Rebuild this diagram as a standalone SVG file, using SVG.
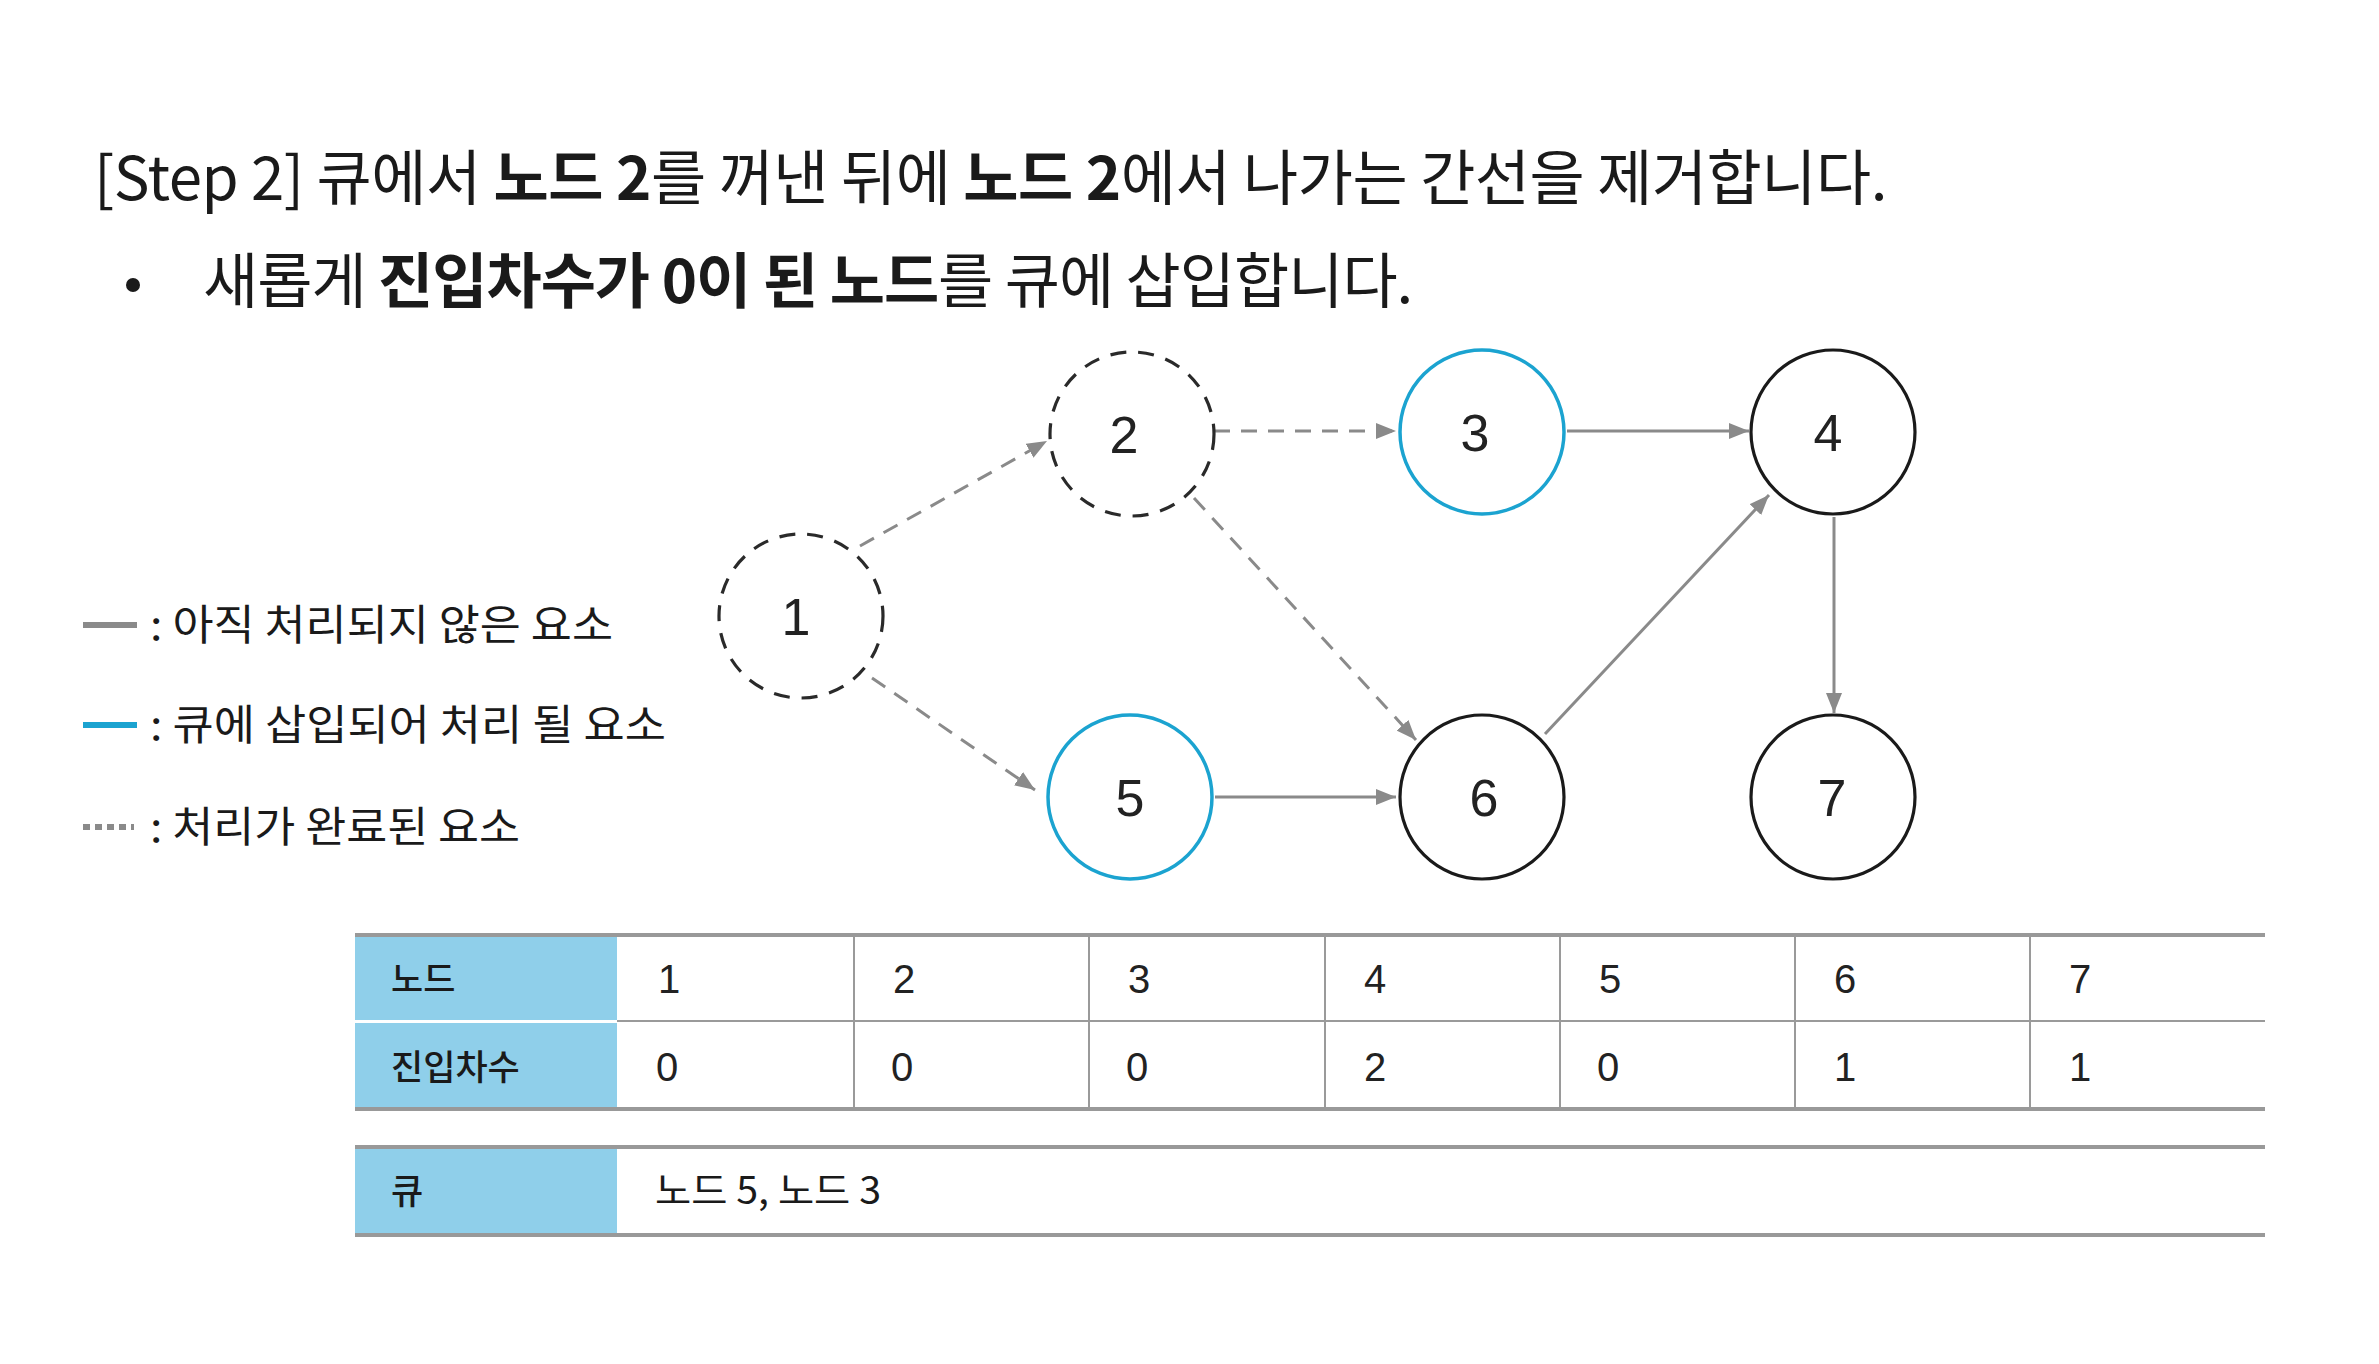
<svg xmlns="http://www.w3.org/2000/svg" width="2379" height="1364" viewBox="0 0 2379 1364">
<style>
.t{font-family:"Noto Sans CJK KR","Liberation Sans",sans-serif;fill:#1a1a1a}
.b{font-weight:700}
.lbl{font-family:"Liberation Sans",Arial,sans-serif;font-size:52px;fill:#222;text-anchor:middle}
.done{fill:none;stroke:#2a2a2a;stroke-width:3.2;stroke-dasharray:16 12}
.queued{fill:#fff;stroke:#1ba3d0;stroke-width:3.5}
.todo{fill:#fff;stroke:#1a1a1a;stroke-width:3.2}
.e{stroke:#8a8a8a;stroke-width:3;fill:none}
.ed{stroke-dasharray:16 11}
.grid{stroke:#9a9a9a;stroke-width:2}
.rule{stroke:#999;stroke-width:4}
.hd{fill:#8fcfea}
.cell{font-family:"Liberation Sans",Arial,sans-serif;font-size:40px;fill:#222}
.th{font-family:"Noto Sans CJK KR",sans-serif;font-size:35px;font-weight:500;fill:#1a1a1a}
</style>
<defs>
<marker id="ah" viewBox="0 0 20 16" refX="20" refY="8" markerWidth="20" markerHeight="16" markerUnits="userSpaceOnUse" orient="auto">
<path d="M0,0 L20,8 L0,16 z" fill="#8a8a8a"/>
</marker>
</defs>
<rect width="2379" height="1364" fill="#fff"/>

<g id="title">
<text class="t" x="94" y="200" font-size="60" letter-spacing="-0.5">[Step 2] 큐에서 <tspan class="b">노드 2</tspan>를 꺼낸 뒤에 <tspan class="b">노드 2</tspan>에서 나가는 간선을 제거합니다.</text>
<circle cx="133" cy="285" r="7" fill="#1a1a1a"/>
<text class="t" x="203" y="303" font-size="60" letter-spacing="-1">새롭게 <tspan class="b">진입차수가 0이 된 노드</tspan>를 큐에 삽입합니다.</text>
</g>

<g id="legend">
<line x1="83" y1="625" x2="137" y2="625" stroke="#8a8a8a" stroke-width="6"/>
<text class="t" x="150" y="640" font-size="42" textLength="463" lengthAdjust="spacingAndGlyphs">: 아직 처리되지 않은 요소</text>
<line x1="83" y1="725" x2="137" y2="725" stroke="#1ba3d0" stroke-width="6"/>
<text class="t" x="150" y="740" font-size="42" textLength="516" lengthAdjust="spacingAndGlyphs">: 큐에 삽입되어 처리 될 요소</text>
<line x1="83" y1="827" x2="134" y2="827" stroke="#8a8a8a" stroke-width="6" stroke-dasharray="7 5"/>
<text class="t" x="150" y="842" font-size="42" textLength="370" lengthAdjust="spacingAndGlyphs">: 처리가 완료된 요소</text>
</g>

<g id="connectors">
<line class="e ed" x1="860" y1="546" x2="1047" y2="441" marker-end="url(#ah)"/>
<line class="e ed" x1="872" y1="678" x2="1035" y2="790" marker-end="url(#ah)"/>
<line class="e ed" x1="1214" y1="431" x2="1396" y2="431" marker-end="url(#ah)"/>
<line class="e ed" x1="1194" y1="498" x2="1416" y2="740" marker-end="url(#ah)"/>
<line class="e" x1="1567" y1="431" x2="1749" y2="431" marker-end="url(#ah)"/>
<line class="e" x1="1215" y1="797" x2="1396" y2="797" marker-end="url(#ah)"/>
<line class="e" x1="1545" y1="734" x2="1769" y2="495" marker-end="url(#ah)"/>
<line class="e" x1="1834" y1="517" x2="1834" y2="713" marker-end="url(#ah)"/>
</g>

<g id="node1"><ellipse class="done" cx="801" cy="616" rx="82" ry="82"/><text class="lbl" x="796" y="635">1</text></g>
<g id="node2"><ellipse class="done" cx="1132" cy="434" rx="82" ry="82"/><text class="lbl" x="1124" y="453">2</text></g>
<g id="node3"><ellipse class="queued" cx="1482" cy="432" rx="82" ry="82"/><text class="lbl" x="1475" y="451">3</text></g>
<g id="node4"><ellipse class="todo" cx="1833" cy="432" rx="82" ry="82"/><text class="lbl" x="1828" y="451">4</text></g>
<g id="node5"><ellipse class="queued" cx="1130" cy="797" rx="82" ry="82"/><text class="lbl" x="1130" y="816">5</text></g>
<g id="node6"><ellipse class="todo" cx="1482" cy="797" rx="82" ry="82"/><text class="lbl" x="1484" y="816">6</text></g>
<g id="node7"><ellipse class="todo" cx="1833" cy="797" rx="82" ry="82"/><text class="lbl" x="1832" y="816">7</text></g>

<g id="table">
<rect class="hd" x="355" y="935" width="262" height="85"/>
<rect class="hd" x="355" y="1023" width="262" height="86"/>
<line class="grid" x1="617" y1="1021" x2="2265" y2="1021"/>
<line class="grid" x1="854" y1="935" x2="854" y2="1109"/>
<line class="grid" x1="1089" y1="935" x2="1089" y2="1109"/>
<line class="grid" x1="1325" y1="935" x2="1325" y2="1109"/>
<line class="grid" x1="1560" y1="935" x2="1560" y2="1109"/>
<line class="grid" x1="1795" y1="935" x2="1795" y2="1109"/>
<line class="grid" x1="2030" y1="935" x2="2030" y2="1109"/>
<line class="rule" x1="355" y1="935" x2="2265" y2="935"/>
<line class="rule" x1="355" y1="1109" x2="2265" y2="1109"/>
<text class="th" x="391" y="992">노드</text>
<text class="th" x="391" y="1080">진입차수</text>
<text class="cell" x="658" y="993">1</text>
<text class="cell" x="893" y="993">2</text>
<text class="cell" x="1128" y="993">3</text>
<text class="cell" x="1364" y="993">4</text>
<text class="cell" x="1599" y="993">5</text>
<text class="cell" x="1834" y="993">6</text>
<text class="cell" x="2069" y="993">7</text>
<text class="cell" x="656" y="1081">0</text>
<text class="cell" x="891" y="1081">0</text>
<text class="cell" x="1126" y="1081">0</text>
<text class="cell" x="1364" y="1081">2</text>
<text class="cell" x="1597" y="1081">0</text>
<text class="cell" x="1834" y="1081">1</text>
<text class="cell" x="2069" y="1081">1</text>
<rect class="hd" x="355" y="1147" width="262" height="88"/>
<line class="rule" x1="355" y1="1147" x2="2265" y2="1147"/>
<line class="rule" x1="355" y1="1235" x2="2265" y2="1235"/>
<text class="th" x="391" y="1204">큐</text>
<text class="t" x="655" y="1204" font-size="38" textLength="226" lengthAdjust="spacingAndGlyphs">노드 5, 노드 3</text>
</g>
</svg>
